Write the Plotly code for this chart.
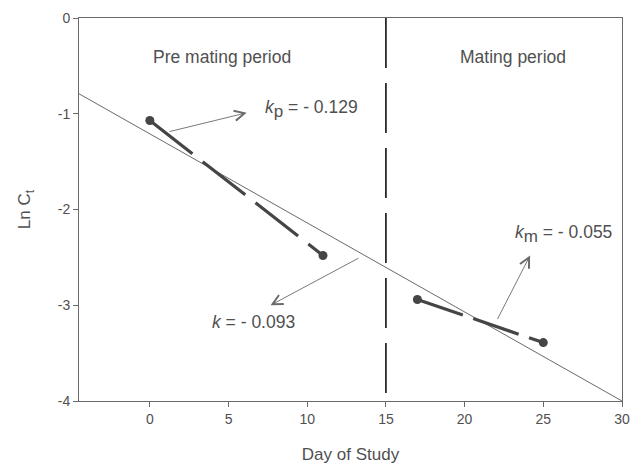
import plotly.graph_objects as go

# Data
pre_days = [0, 11]
pre_ln = [-1.07, -2.48]
mat_days = [17, 25]
mat_ln = [-2.94, -3.39]
fit_days = [-4.5, 30]
fit_intercept = -1.21
fit_slope = -0.093
fit_ln = [fit_intercept + fit_slope * d for d in fit_days]
boundary_day = 15
boundary_ln = [0, -4]
x_ticks = [0, 5, 10, 15, 20, 25, 30]
y_ticks = [0, -1, -2, -3, -4]
y_ticktext = ["0", "-1", "-2", "-3", "-4"]

FONT = "Liberation Sans, Arial, sans-serif"
TXT = "#505050"
AX = "#6a6a6a"
DARK = "#454545"

fig = go.Figure()

fig.add_trace(go.Scatter(x=fit_days, y=fit_ln, mode="lines",
                         line=dict(color="#6a6a6a", width=1), showlegend=False))
fig.add_trace(go.Scatter(x=[boundary_day, boundary_day], y=boundary_ln, mode="lines",
                         line=dict(color="#2a2a2a", width=1.8, dash="50px,15px"),
                         showlegend=False))
fig.add_trace(go.Scatter(x=pre_days, y=pre_ln, mode="lines+markers",
                         line=dict(color=DARK, width=3.2, dash="54px,13px"),
                         marker=dict(color=DARK, size=9), showlegend=False))
fig.add_trace(go.Scatter(x=mat_days, y=mat_ln, mode="lines+markers",
                         line=dict(color=DARK, width=3.2, dash="48px,11px"),
                         marker=dict(color=DARK, size=9), showlegend=False))

ann = []
# arrows (head at x,y ; tail at ax,ay)
arrows = [
    ((6.15, -0.99), (1.16, -1.19)),
    ((7.67, -3.0), (13.35, -2.50)),
    ((24.16, -2.48), (22.04, -3.16)),
]
for (hx, hy), (tx, ty) in arrows:
    ann.append(dict(x=hx, y=hy, ax=tx, ay=ty, xref="x", yref="y", axref="x", ayref="y",
                    text="", showarrow=True, arrowhead=5, arrowsize=2.2, arrowwidth=0.9,
                    arrowcolor="#6a6a6a", standoff=0, startstandoff=0))

SUB = '<sub><span style="font-size:17px">{}</span></sub>'
labels = [
    (10.3, -0.95, "<i>k</i>" + SUB.format("p") + " = - 0.129"),
    (6.6, -3.17, "<i>k</i> = - 0.093"),
    (26.3, -2.26, "<i>k</i>" + SUB.format("m") + " = - 0.055"),
    (4.6, -0.41, "Pre mating period"),
    (23.1, -0.41, "Mating period"),
]
for x, y, t in labels:
    ann.append(dict(x=x, y=y, xref="x", yref="y", text=t, showarrow=False,
                    font=dict(family=FONT, size=17.5, color=TXT)))

fig.update_layout(
    width=642, height=468,
    margin=dict(l=79, r=20, t=18, b=67),
    paper_bgcolor="white", plot_bgcolor="white",
    annotations=ann,
    font=dict(family=FONT, color=TXT),
)
fig.update_xaxes(range=[-4.5, 30], tickvals=x_ticks, ticks="outside", ticklen=5,
                 tickcolor=AX, showline=True, linecolor=AX, linewidth=1, mirror=True,
                 showgrid=False, zeroline=False, automargin=False,
                 tickfont=dict(family=FONT, size=14, color=TXT),
                 title=dict(text="Day of Study", font=dict(family=FONT, size=17, color=TXT),
                            standoff=22))
fig.update_yaxes(range=[-4, 0], tickvals=y_ticks, ticktext=y_ticktext, ticks="outside",
                 ticklen=5, tickcolor=AX, showline=True, linecolor=AX, linewidth=1,
                 mirror=True, showgrid=False, zeroline=False, automargin=False,
                 tickfont=dict(family=FONT, size=14, color=TXT),
                 title=dict(text="Ln C<sub>t</sub>", font=dict(family=FONT, size=17, color=TXT),
                            standoff=22))

fig.write_html("out.html")
